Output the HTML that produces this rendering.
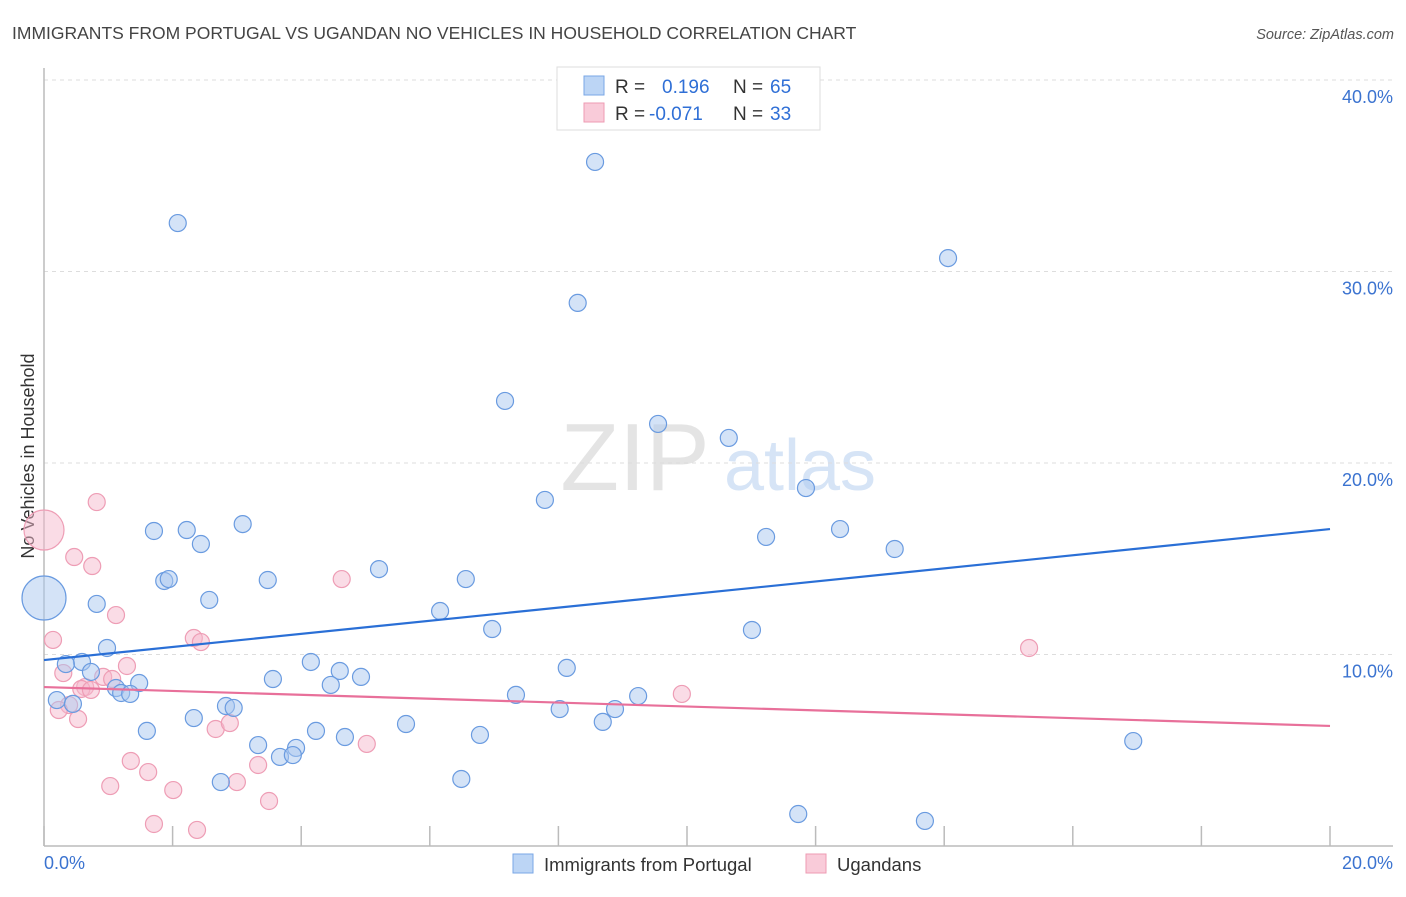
<!DOCTYPE html>
<html><head><meta charset="utf-8"><style>
body{margin:0;background:#fff;font-family:"Liberation Sans",sans-serif;}
svg text{font-family:"Liberation Sans",sans-serif;}
</style></head><body>
<svg id="c" width="1406" height="892" xmlns="http://www.w3.org/2000/svg">
<text x="12" y="39" font-size="17.5" fill="#444">IMMIGRANTS FROM PORTUGAL VS UGANDAN NO VEHICLES IN HOUSEHOLD CORRELATION CHART</text>
<text x="1394" y="39" font-size="14.5" fill="#555" font-style="italic" text-anchor="end">Source: ZipAtlas.com</text>
<text x="635" y="490" font-size="96" fill="#e4e4e4" font-family="Liberation Serif" text-anchor="middle">ZIP</text>
<text x="800" y="490" font-size="72" fill="#d6e4f6" text-anchor="middle">atlas</text>
<text transform="translate(34,456) rotate(-90)" font-size="18" fill="#333" text-anchor="middle">No Vehicles in Household</text>
<g id="grid"></g><g id="pts"></g><g id="lines"></g>
<g>
<rect x="557" y="67" width="263" height="63" fill="#fff" stroke="#ddd"/>
<rect x="584" y="76" width="20" height="19" fill="#bcd5f5" stroke="#7aa7e6"/>
<rect x="584" y="103" width="20" height="19" fill="#f9cbd9" stroke="#ee9bb3"/>
<text x="615" y="93" font-size="19" fill="#333">R = </text><text x="662" y="93" font-size="19" fill="#2f6fd6">0.196</text>
<text x="733" y="93" font-size="19" fill="#333">N = </text><text x="770" y="93" font-size="19" fill="#2f6fd6">65</text>
<text x="615" y="120" font-size="19" fill="#333">R = </text><text x="649" y="120" font-size="19" fill="#2f6fd6">-0.071</text>
<text x="733" y="120" font-size="19" fill="#333">N = </text><text x="770" y="120" font-size="19" fill="#2f6fd6">33</text>
</g>
<g>
<rect x="513" y="854" width="20" height="19" fill="#bcd5f5" stroke="#7aa7e6"/>
<text x="544" y="871" font-size="18.5" fill="#333">Immigrants from Portugal</text>
<rect x="806" y="854" width="20" height="19" fill="#f9cbd9" stroke="#ee9bb3"/>
<text x="837" y="871" font-size="18.5" fill="#333">Ugandans</text>
</g>
</svg>
<script>
const xTicks=[0,20];
const yTicks=[10,20,30,40];
const blueX=[2.08,8.57,14.06,8.30,7.17,9.55,10.65,7.79,11.85,11.23,12.38,13.23,1.71,2.22,2.44,3.09,1.87,1.94,3.48,2.57,0.82,5.21,6.56,6.16,6.97,11.01,0.98,0.59,0.34,0.73,4.15,4.60,8.13,3.56,4.46,4.93,1.48,1.12,1.20,1.34,0.20,0.45,2.83,2.95,2.33,7.34,9.24,8.02,8.88,5.63,8.69,1.60,4.23,4.68,6.78,3.33,3.92,3.67,3.87,16.94,2.75,6.49,11.73,13.70];
const blueY=[32.53,35.72,30.70,28.36,23.24,22.04,21.31,18.07,18.69,16.14,16.55,15.51,16.45,16.50,15.77,16.81,13.84,13.94,13.89,12.85,12.64,14.46,13.94,12.27,11.33,11.28,10.34,9.61,9.50,9.09,9.61,9.14,9.30,8.72,8.41,8.83,8.51,8.25,7.99,7.94,7.62,7.42,7.31,7.21,6.68,7.89,7.83,7.15,7.15,6.37,6.48,6.01,6.01,5.69,5.80,5.27,5.12,4.65,4.75,5.48,3.34,3.50,1.67,1.31];
const pinkX=[0.82,0.47,0.75,1.12,0.14,4.63,2.33,2.44,15.32,1.29,0.30,0.92,1.06,0.64,0.58,0.73,9.92,0.39,0.23,0.53,2.67,2.89,1.35,1.62,3.33,5.02,3.00,1.03,2.01,3.50,1.71,2.38];
const pinkY=[17.96,15.09,14.62,12.06,10.76,13.94,10.86,10.65,10.34,9.40,9.03,8.83,8.72,8.30,8.20,8.15,7.94,7.36,7.10,6.63,6.11,6.42,4.44,3.86,4.23,5.33,3.34,3.13,2.92,2.35,1.15,0.84];
const bigBlue=[0,12.95], bigPink=[0,16.5];
const blueTrend=[9.71,16.55], pinkTrend=[8.30,6.27];
const X=v=>44+v/20*1286, Y=v=>846-v*19.15;
const NS="http://www.w3.org/2000/svg";
function mk(tag,attrs,parent){const e=document.createElementNS(NS,tag);for(const k in attrs)e.setAttribute(k,attrs[k]);document.getElementById(parent).appendChild(e);return e;}
yTicks.forEach(t=>{
 const l=mk('line',{x1:44,x2:1393,y1:Y(t),y2:Y(t),stroke:'#ddd','stroke-dasharray':'4,4'},'grid');
 
 
 const tx=mk('text',{x:1393,y:Y(t)+23,'font-size':18,fill:'#3b73d0','text-anchor':'end'},'grid');tx.textContent=t.toFixed(1)+'%';
 
 
});
for(let i=0;i<=10;i++){const l=mk('line',{x1:X(i*2),x2:X(i*2),y1:826,y2:846,stroke:'#bbb','stroke-width':1.5},'grid');
 
 }
let a=mk('line',{x1:44,x2:44,y1:68,y2:846,stroke:'#bbb','stroke-width':1.5},'grid');


a=mk('line',{x1:44,x2:1393,y1:846,y2:846,stroke:'#bbb','stroke-width':1.5},'grid');


xTicks.forEach((t,i)=>{const tx=mk('text',{x:i?1393:44,y:869,'font-size':18,fill:'#3b73d0','text-anchor':i?'end':'start'},'grid');tx.textContent=t.toFixed(1)+'%';
 
 });
function dot(x,y,r,blue){const c=mk('circle',{cx:X(x),cy:Y(y),r:r,fill:blue?'rgba(170,200,240,0.5)':'rgba(246,185,205,0.5)',stroke:blue?'#6a9be0':'#ee9db5','stroke-width':1.2},'pts');
 
 }
pinkX.forEach((x,i)=>dot(x,pinkY[i],8.5,false));
dot(bigPink[0],bigPink[1],20,false);
blueX.forEach((x,i)=>dot(x,blueY[i],8.5,true));
dot(bigBlue[0],bigBlue[1],22,true);
let t=mk('line',{x1:X(0),x2:X(20),y1:Y(blueTrend[0]),y2:Y(blueTrend[1]),stroke:'#2a6fd6','stroke-width':2.2},'lines');


t=mk('line',{x1:X(0),x2:X(20),y1:Y(pinkTrend[0]),y2:Y(pinkTrend[1]),stroke:'#e8709a','stroke-width':2.2},'lines');


</script>
</body></html>
